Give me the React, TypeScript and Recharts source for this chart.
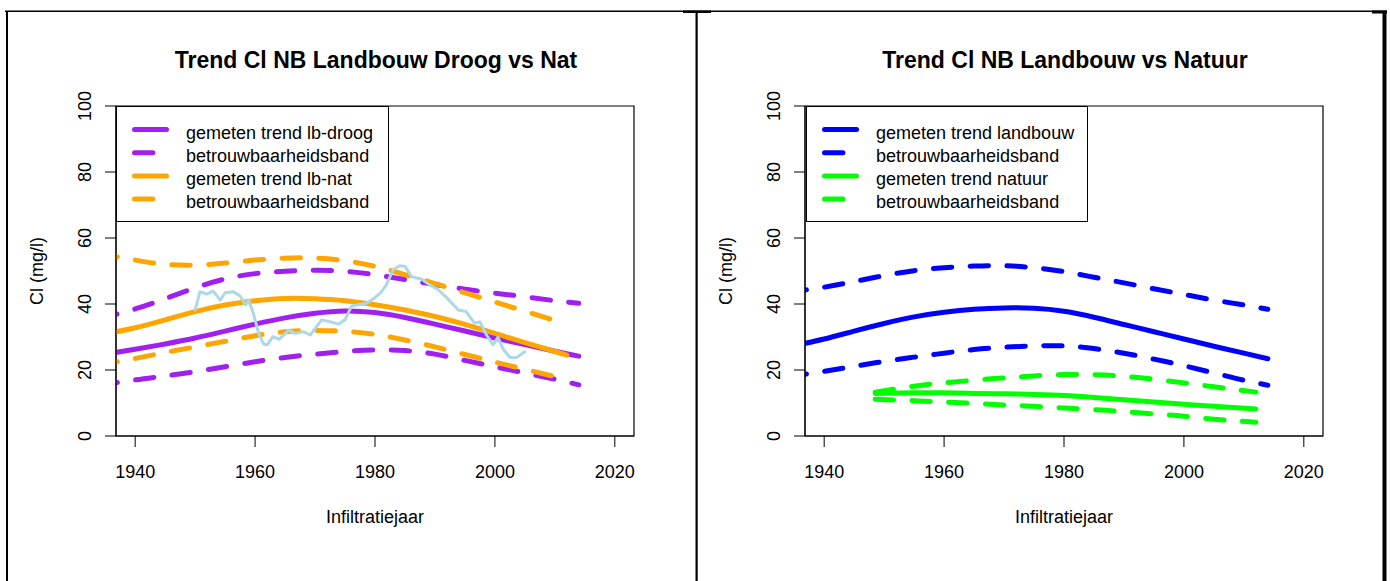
import React from 'react';
import { LineChart, Line, XAxis, YAxis, ReferenceArea, Legend, Label } from 'recharts';

const FONT = '"Liberation Sans", Arial, Helvetica, sans-serif';
const PURPLE = '#A020F0';
const ORANGE = '#FFA500';
const LIGHTBLUE = '#ADD8E6';
const BLUE = '#0000FF';
const GREEN = '#00FF00';

const X_DOMAIN = [1936.8, 2023.2];
const X_TICKS = [1940, 1960, 1980, 2000, 2020];
const Y_TICKS = [0, 20, 40, 60, 80, 100];

const TITLE_LEFT = 'Trend Cl NB Landbouw Droog vs Nat';
const TITLE_RIGHT = 'Trend Cl NB Landbouw vs Natuur';
const X_LABEL = 'Infiltratiejaar';
const Y_LABEL = 'Cl (mg/l)';

// ---- left panel: landbouw droog vs nat ----
const YEARS_LB = [1934, 1940, 1945, 1950, 1955, 1960, 1965, 1970, 1975, 1980, 1985, 1990, 1995, 2000, 2005, 2010, 2014];
const DROOG_TREND = [24.5, 26.3, 27.9, 29.7, 31.8, 33.9, 35.8, 37.2, 37.9, 37.4, 35.9, 33.9, 31.8, 29.7, 27.7, 25.7, 24.2];
const DROOG_UPPER = [35.5, 38.5, 41.6, 44.9, 47.6, 49.2, 49.9, 50.2, 49.9, 48.9, 47.4, 45.9, 44.5, 43.3, 42.2, 41.0, 40.2];
const DROOG_LOWER = [15.3, 17.0, 18.2, 19.5, 21.0, 22.5, 23.8, 24.8, 25.6, 26.1, 25.9, 24.8, 22.9, 21.0, 19.1, 17.2, 15.5];

const YEARS_NAT = [1934, 1940, 1945, 1950, 1955, 1960, 1965, 1970, 1975, 1980, 1985, 1990, 1995, 2000, 2005, 2010, 2012];
const NAT_TREND = [30.5, 32.8, 35.2, 37.7, 39.7, 41.0, 41.7, 41.6, 41.0, 39.8, 38.2, 36.2, 33.8, 31.1, 28.3, 25.6, 24.5];
const NAT_UPPER = [55.3, 53.3, 52.0, 51.8, 52.4, 53.3, 53.9, 53.9, 53.1, 51.4, 48.9, 46.2, 43.4, 40.6, 37.8, 35.0, 33.9];
const NAT_LOWER = [21.5, 23.5, 25.3, 27.0, 28.7, 30.4, 31.6, 32.0, 31.7, 30.8, 29.1, 27.0, 24.7, 22.4, 20.2, 18.0, 17.1];

const MEASURED_YEARS = [
  1950.0, 1950.8, 1952.0, 1953.0, 1954.2, 1955.0, 1956.4, 1957.5, 1958.4, 1958.9, 1959.7, 1960.6,
  1961.4, 1962.0, 1963.0, 1964.0, 1965.6, 1966.7, 1968.1, 1969.2, 1971.1, 1972.5, 1973.9, 1975.0,
  1976.1, 1978.6, 1979.7, 1981.0, 1981.9, 1983.0, 1984.1, 1985.0, 1986.1, 1987.8, 1989.1, 1990.5,
  1991.9, 1993.9, 1995.2, 1996.6, 1997.5, 1998.6, 1999.7, 2000.5, 2001.3, 2002.5, 2003.6, 2005.0,
];
const MEASURED_VALUES = [
  38.2, 43.7, 43.0, 43.9, 41.2, 43.4, 43.7, 42.4, 39.7, 41.2, 37.2, 31.1,
  27.9, 27.6, 30.1, 29.3, 32.1, 31.1, 31.6, 30.6, 35.2, 34.6, 33.9, 35.2,
  39.4, 40.2, 41.5, 43.5, 45.8, 50.3, 51.6, 51.4, 48.3, 47.5, 45.8, 44.4,
  42.0, 38.2, 37.7, 34.2, 34.6, 30.6, 27.6, 29.9, 26.6, 23.8, 23.8, 25.5,
];

// ---- right panel: landbouw vs natuur ----
const LANDBOUW_TREND = [27.0, 29.4, 31.8, 34.1, 36.1, 37.5, 38.4, 38.8, 38.7, 37.8, 36.0, 33.8, 31.6, 29.4, 27.2, 25.1, 23.4];
const LANDBOUW_UPPER = [43.5, 45.1, 46.8, 48.6, 50.1, 51.0, 51.5, 51.6, 51.0, 49.8, 48.1, 46.4, 44.6, 42.9, 41.2, 39.7, 38.4];
const LANDBOUW_LOWER = [18.0, 19.6, 21.1, 22.6, 23.9, 25.1, 26.2, 26.9, 27.3, 27.3, 26.5, 25.1, 23.3, 21.3, 19.1, 16.9, 15.4];

const YEARS_NATUUR = [1948.5, 1955, 1960, 1965, 1970, 1975, 1980, 1985, 1990, 1995, 2000, 2005, 2012];
const NATUUR_TREND = [12.9, 13.1, 13.1, 12.9, 12.8, 12.6, 12.3, 11.7, 11.0, 10.3, 9.6, 9.0, 8.2];
const NATUUR_UPPER = [13.3, 15.1, 16.1, 16.9, 17.6, 18.2, 18.6, 18.6, 18.1, 17.2, 16.1, 14.9, 13.3];
const NATUUR_LOWER = [11.1, 10.7, 10.3, 9.9, 9.4, 9.0, 8.5, 8.0, 7.4, 6.7, 6.0, 5.1, 4.2];

const LEGEND_LEFT = ['gemeten trend lb-droog', 'betrouwbaarheidsband', 'gemeten trend lb-nat', 'betrouwbaarheidsband'];
const LEGEND_RIGHT = ['gemeten trend landbouw', 'betrouwbaarheidsband', 'gemeten trend natuur', 'betrouwbaarheidsband'];

type Series = {
  id: string;
  years: number[];
  values: number[];
  color: string;
  dashed?: boolean;
  width: number;
  curve: 'natural' | 'linear';
};

const toPoints = (years: number[], values: number[]) => years.map((x, i) => ({ x, y: values[i] }));

const LEFT_SERIES: Series[] = [
  { id: 'droogUpper', years: YEARS_LB, values: DROOG_UPPER, color: PURPLE, dashed: true, width: 5, curve: 'natural' },
  { id: 'droogLower', years: YEARS_LB, values: DROOG_LOWER, color: PURPLE, dashed: true, width: 5, curve: 'natural' },
  { id: 'droogTrend', years: YEARS_LB, values: DROOG_TREND, color: PURPLE, width: 5, curve: 'natural' },
  { id: 'natUpper', years: YEARS_NAT, values: NAT_UPPER, color: ORANGE, dashed: true, width: 5, curve: 'natural' },
  { id: 'natLower', years: YEARS_NAT, values: NAT_LOWER, color: ORANGE, dashed: true, width: 5, curve: 'natural' },
  { id: 'natTrend', years: YEARS_NAT, values: NAT_TREND, color: ORANGE, width: 5, curve: 'natural' },
  { id: 'measured', years: MEASURED_YEARS, values: MEASURED_VALUES, color: LIGHTBLUE, width: 3, curve: 'linear' },
];

const RIGHT_SERIES: Series[] = [
  { id: 'lbUpper', years: YEARS_LB, values: LANDBOUW_UPPER, color: BLUE, dashed: true, width: 5, curve: 'natural' },
  { id: 'lbLower', years: YEARS_LB, values: LANDBOUW_LOWER, color: BLUE, dashed: true, width: 5, curve: 'natural' },
  { id: 'lbTrend', years: YEARS_LB, values: LANDBOUW_TREND, color: BLUE, width: 5, curve: 'natural' },
  { id: 'natuurUpper', years: YEARS_NATUUR, values: NATUUR_UPPER, color: GREEN, dashed: true, width: 5, curve: 'natural' },
  { id: 'natuurLower', years: YEARS_NATUUR, values: NATUUR_LOWER, color: GREEN, dashed: true, width: 5, curve: 'natural' },
  { id: 'natuurTrend', years: YEARS_NATUUR, values: NATUUR_TREND, color: GREEN, width: 5, curve: 'natural' },
];

const DASH = '18.4 18.4';

const XTick = (props: any) => {
  const { x, y, payload } = props;
  return (
    <text x={x} y={y} dy="0.71em" textAnchor="middle" fontSize={18} fontFamily={FONT} fill="#000">
      {payload.value}
    </text>
  );
};

const YTick = (props: any) => {
  const { x, y, payload } = props;
  return (
    <text transform={`translate(${x},${y}) rotate(-90)`} textAnchor="middle" fontSize={18} fontFamily={FONT} fill="#000">
      {payload.value}
    </text>
  );
};

const XLabelContent = () => (
  <text x={375} y={523} textAnchor="middle" fontSize={18} fontFamily={FONT} fill="#000">
    {X_LABEL}
  </text>
);

const YLabelContent = () => (
  <text transform="translate(43,271) rotate(-90)" textAnchor="middle" fontSize={18} fontFamily={FONT} fill="#000">
    {Y_LABEL}
  </text>
);

const LegendBox = ({ labels, colors, width }: { labels: string[]; colors: string[]; width: number }) => (
  <svg width={width} height={117} style={{ display: 'block' }}>
    <rect x={0.5} y={0.5} width={width - 1} height={115} fill="#fff" stroke="#000" strokeWidth={1} />
    {labels.map((lab, i) => {
      const y = 23.5 + i * 23.2;
      const dashed = i % 2 === 1;
      return (
        <g key={i}>
          <line
            x1={18.5}
            x2={dashed ? 52.5 : 50.5}
            y1={y}
            y2={y}
            stroke={colors[i]}
            strokeWidth={5}
            strokeLinecap="round"
            strokeDasharray={dashed ? DASH : undefined}
          />
          <text x={70} y={y + 9} fontSize={18} fontFamily={FONT} fill="#000">
            {lab}
          </text>
        </g>
      );
    })}
  </svg>
);

function Panel({
  left,
  series,
  labels,
  colors,
  legendLeft,
  legendWidth,
}: {
  left: number;
  series: Series[];
  labels: string[];
  colors: string[];
  legendLeft: number;
  legendWidth: number;
}) {
  return (
    <div style={{ position: 'absolute', left, top: 0, width: 697, height: 581 }}>
      <LineChart width={697} height={581} margin={{ top: 106, right: 63, bottom: 75, left: 16 }}>
        <XAxis
          type="number"
          dataKey="x"
          domain={X_DOMAIN}
          allowDataOverflow
          ticks={X_TICKS}
          interval={0}
          height={70}
          tickSize={11}
          tickMargin={18}
          stroke="#000"
          tick={XTick}
        >
          <Label content={XLabelContent} />
        </XAxis>
        <YAxis
          type="number"
          domain={[0, 100]}
          allowDataOverflow
          ticks={Y_TICKS}
          interval={0}
          width={100}
          tickSize={11}
          tickMargin={14}
          stroke="#000"
          tick={YTick}
        >
          <Label content={YLabelContent} />
        </YAxis>
        <ReferenceArea
          x1={X_DOMAIN[0]}
          x2={X_DOMAIN[1]}
          y1={0}
          y2={100}
          fill="none"
          fillOpacity={0}
          stroke="#000"
          strokeWidth={1.2}
          ifOverflow="visible"
        />
        {series.map((s) => (
          <Line
            key={s.id}
            name={s.id}
            data={toPoints(s.years, s.values)}
            dataKey="y"
            type={s.curve}
            stroke={s.color}
            strokeWidth={s.width}
            strokeDasharray={s.dashed ? DASH : undefined}
            strokeLinecap="round"
            strokeLinejoin="round"
            dot={false}
            activeDot={false}
            isAnimationActive={false}
          />
        ))}
        <Legend
          layout="horizontal"
          verticalAlign="middle"
          align="center"
          wrapperStyle={{ left: legendLeft, top: 106, width: legendWidth, height: 117, margin: 0, padding: 0 }}
          content={() => <LegendBox labels={labels} colors={colors} width={legendWidth} />}
        />
      </LineChart>
    </div>
  );
}

export default function App() {
  return (
    <div style={{ position: 'absolute', left: 0, top: 0, width: 1390, height: 581, background: '#fff', fontFamily: FONT, overflow: 'hidden' }}>
      <svg width={1390} height={581} style={{ position: 'absolute', left: 0, top: 0 }}>
        <rect x={5} y={10.5} width={1382} height={1.5} fill="#000" />
        <rect x={683} y={10.5} width={28} height={2.5} fill="#000" />
        <rect x={1372} y={10.5} width={15} height={3} fill="#000" />
        <rect x={6} y={11} width={2} height={570} fill="#000" />
        <rect x={695.5} y={11} width={2.2} height={570} fill="#000" />
        <rect x={1382.5} y={11} width={4} height={570} fill="#000" />
        <text x={376} y={68} textAnchor="middle" fontSize={23} fontWeight="bold" fontFamily={FONT} fill="#000">
          {TITLE_LEFT}
        </text>
        <text x={1065} y={68} textAnchor="middle" fontSize={23} fontWeight="bold" fontFamily={FONT} fill="#000">
          {TITLE_RIGHT}
        </text>
      </svg>
      <Panel
        left={0}
        series={LEFT_SERIES}
        labels={LEGEND_LEFT}
        colors={[PURPLE, PURPLE, ORANGE, ORANGE]}
        legendLeft={116}
        legendWidth={273}
      />
      <Panel
        left={689}
        series={RIGHT_SERIES}
        labels={LEGEND_RIGHT}
        colors={[BLUE, BLUE, GREEN, GREEN]}
        legendLeft={117}
        legendWidth={282}
      />
    </div>
  );
}
